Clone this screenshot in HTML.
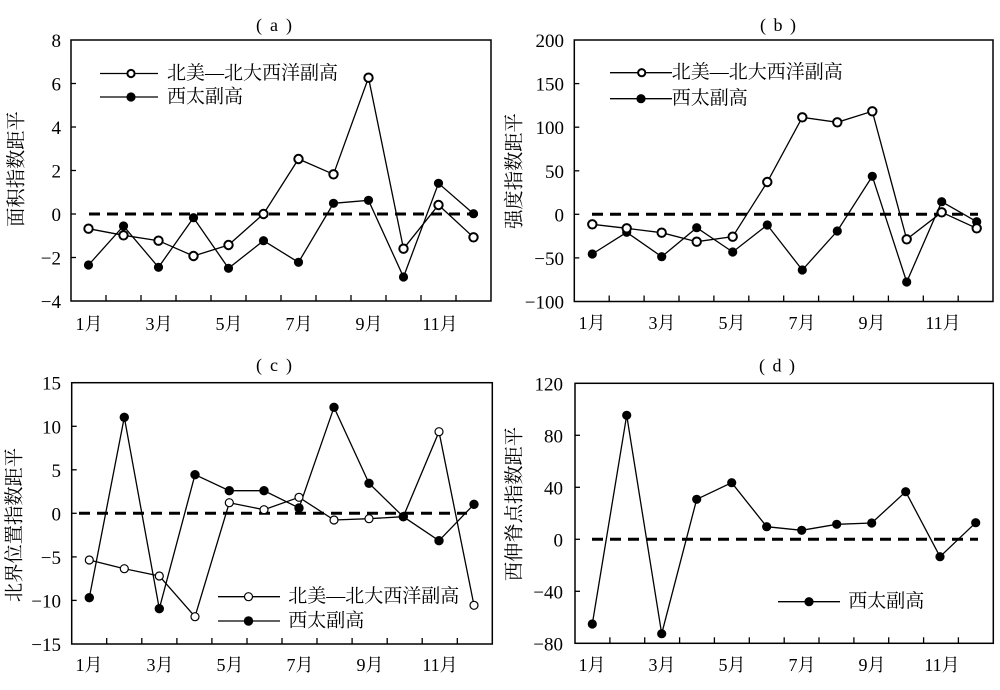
<!DOCTYPE html>
<html><head><meta charset="utf-8"><style>
html,body{margin:0;padding:0;background:#fff;}
svg{display:block;}
.xl{font-family:"Liberation Serif","Noto Serif CJK SC",serif;font-size:18px;fill:#000;text-anchor:middle;}
.yl{font-family:"Liberation Serif","Noto Serif CJK SC",serif;font-size:19px;fill:#000;text-anchor:end;}
.lab{font-family:"Liberation Serif","Noto Serif CJK SC",serif;font-size:19.3px;fill:#000;text-anchor:middle;dominant-baseline:central;}
.leg{font-family:"Liberation Serif","Noto Serif CJK SC",serif;font-size:19px;fill:#000;dominant-baseline:central;}
.ttl{font-family:"Liberation Serif",serif;font-size:18px;fill:#000;text-anchor:middle;}
.ax{fill:none;stroke:#000;stroke-width:1.5;}
.tk{stroke:#000;stroke-width:1.3;}
.ln{fill:none;stroke:#000;stroke-width:1.3;}
.dash{stroke:#000;stroke-width:3;stroke-dasharray:11 7;}
.o{fill:#fff;stroke:#000;stroke-width:2;}
.o2{fill:#fff;stroke:#000;stroke-width:1.2;}
.f{fill:#000;}
</style></head><body>
<svg width="1000" height="690" viewBox="0 0 1000 690" xmlns="http://www.w3.org/2000/svg">

<!-- ================= Panel (a) ================= -->
<text class="ttl" x="259" y="31">(</text><text class="ttl" x="274" y="31">a</text><text class="ttl" x="289" y="31">)</text>
<rect class="ax" x="71" y="40" width="420" height="261"/>
<g class="tk">
<line x1="71" y1="83.5" x2="76" y2="83.5"/><line x1="71" y1="127" x2="76" y2="127"/><line x1="71" y1="170.5" x2="76" y2="170.5"/><line x1="71" y1="214" x2="76" y2="214"/><line x1="71" y1="257.5" x2="76" y2="257.5"/>
<line x1="106" y1="301" x2="106" y2="295"/><line x1="141" y1="301" x2="141" y2="295"/><line x1="176" y1="301" x2="176" y2="295"/><line x1="211" y1="301" x2="211" y2="295"/><line x1="246" y1="301" x2="246" y2="295"/><line x1="281" y1="301" x2="281" y2="295"/><line x1="316" y1="301" x2="316" y2="295"/><line x1="351" y1="301" x2="351" y2="295"/><line x1="386" y1="301" x2="386" y2="295"/><line x1="421" y1="301" x2="421" y2="295"/><line x1="456" y1="301" x2="456" y2="295"/>
</g>
<g>
<text class="yl" x="61" y="47">8</text><text class="yl" x="61" y="90.5">6</text><text class="yl" x="61" y="134">4</text><text class="yl" x="61" y="177.5">2</text><text class="yl" x="61" y="221">0</text><text class="yl" x="61" y="264.5">−2</text><text class="yl" x="61" y="308">−4</text>
</g>
<g>
<text class="xl" x="89" y="330">1月</text><text class="xl" x="159" y="330">3月</text><text class="xl" x="229" y="330">5月</text><text class="xl" x="299" y="330">7月</text><text class="xl" x="369" y="330">9月</text><text class="xl" x="440" y="330">11月</text>
</g>
<text class="lab" x="17" y="169" transform="rotate(-90 17 169)">面积指数距平</text>
<line class="dash" x1="89" y1="214" x2="478" y2="214"/>
<polyline class="ln" points="88.5,228.7 123.5,235.3 158.5,240.7 193.5,256 228.5,245 263.5,214 298.5,159 333.5,174.3 368.5,77.7 403.5,248.7 438.5,205 473.5,237.3"/>
<polyline class="ln" points="88.5,265 123.5,226 158.5,267.3 193.5,217.7 228.5,268.3 263.5,240.7 298.5,262.3 333.5,203.3 368.5,200.3 403.5,277 438.5,183.3 473.5,213.7"/>
<g>
<circle class="o" cx="88.5" cy="228.7" r="4.2"/><circle class="o" cx="123.5" cy="235.3" r="4.2"/><circle class="o" cx="158.5" cy="240.7" r="4.2"/><circle class="o" cx="193.5" cy="256" r="4.2"/><circle class="o" cx="228.5" cy="245" r="4.2"/><circle class="o" cx="263.5" cy="214" r="4.2"/><circle class="o" cx="298.5" cy="159" r="4.2"/><circle class="o" cx="333.5" cy="174.3" r="4.2"/><circle class="o" cx="368.5" cy="77.7" r="4.2"/><circle class="o" cx="403.5" cy="248.7" r="4.2"/><circle class="o" cx="438.5" cy="205" r="4.2"/><circle class="o" cx="473.5" cy="237.3" r="4.2"/>
</g>
<g class="f">
<circle cx="88.5" cy="265" r="4.6"/><circle cx="123.5" cy="226" r="4.6"/><circle cx="158.5" cy="267.3" r="4.6"/><circle cx="193.5" cy="217.7" r="4.6"/><circle cx="228.5" cy="268.3" r="4.6"/><circle cx="263.5" cy="240.7" r="4.6"/><circle cx="298.5" cy="262.3" r="4.6"/><circle cx="333.5" cy="203.3" r="4.6"/><circle cx="368.5" cy="200.3" r="4.6"/><circle cx="403.5" cy="277" r="4.6"/><circle cx="438.5" cy="183.3" r="4.6"/><circle cx="473.5" cy="213.7" r="4.6"/>
</g>
<line class="ln" x1="100" y1="73.5" x2="158" y2="73.5"/><circle class="o" cx="131" cy="73.5" r="3.6"/>
<line class="ln" x1="100" y1="97" x2="158" y2="97"/><circle class="f" cx="131" cy="97" r="4.6"/>
<text class="leg" x="167" y="73.5">北美—北大西洋副高</text>
<text class="leg" x="167" y="97">西太副高</text>

<!-- ================= Panel (b) ================= -->
<text class="ttl" x="763" y="31">(</text><text class="ttl" x="778" y="31">b</text><text class="ttl" x="793" y="31">)</text>
<rect class="ax" x="574.3" y="40" width="418.7" height="261.5"/>
<g class="tk">
<line x1="574.3" y1="83.6" x2="579.3" y2="83.6"/><line x1="574.3" y1="127.2" x2="579.3" y2="127.2"/><line x1="574.3" y1="170.8" x2="579.3" y2="170.8"/><line x1="574.3" y1="214.3" x2="579.3" y2="214.3"/><line x1="574.3" y1="257.9" x2="579.3" y2="257.9"/>
<line x1="609.2" y1="301.5" x2="609.2" y2="295.5"/><line x1="644.1" y1="301.5" x2="644.1" y2="295.5"/><line x1="679" y1="301.5" x2="679" y2="295.5"/><line x1="713.9" y1="301.5" x2="713.9" y2="295.5"/><line x1="748.8" y1="301.5" x2="748.8" y2="295.5"/><line x1="783.7" y1="301.5" x2="783.7" y2="295.5"/><line x1="818.6" y1="301.5" x2="818.6" y2="295.5"/><line x1="853.5" y1="301.5" x2="853.5" y2="295.5"/><line x1="888.4" y1="301.5" x2="888.4" y2="295.5"/><line x1="923.3" y1="301.5" x2="923.3" y2="295.5"/><line x1="958.2" y1="301.5" x2="958.2" y2="295.5"/>
</g>
<g>
<text class="yl" x="564" y="47">200</text><text class="yl" x="564" y="90.6">150</text><text class="yl" x="564" y="134.2">100</text><text class="yl" x="564" y="177.8">50</text><text class="yl" x="564" y="221.3">0</text><text class="yl" x="564" y="264.9">−50</text><text class="yl" x="564" y="308.5">−100</text>
</g>
<g>
<text class="xl" x="592" y="329">1月</text><text class="xl" x="662" y="329">3月</text><text class="xl" x="732" y="329">5月</text><text class="xl" x="802" y="329">7月</text><text class="xl" x="872" y="329">9月</text><text class="xl" x="943" y="329">11月</text>
</g>
<text class="lab" x="515" y="171" transform="rotate(-90 515 171)">强度指数距平</text>
<line class="dash" x1="592" y1="214.3" x2="978" y2="214.3"/>
<polyline class="ln" points="592.3,224.3 626.7,228.3 661.7,232.7 696.7,241.7 732.7,236.7 767.3,182 802.3,117.3 837.3,122.3 872.3,111.3 906.7,239.3 941.7,212.3 976.7,228.3"/>
<polyline class="ln" points="592.3,254 626.7,232.3 661.7,256.7 696.7,227.7 732.7,252 767.3,225 802.3,270 837.3,231 872.3,176.3 906.7,282 941.7,201.7 976.7,221.7"/>
<g class="f">
<circle cx="592.3" cy="254" r="4.6"/><circle cx="626.7" cy="232.3" r="4.6"/><circle cx="661.7" cy="256.7" r="4.6"/><circle cx="696.7" cy="227.7" r="4.6"/><circle cx="732.7" cy="252" r="4.6"/><circle cx="767.3" cy="225" r="4.6"/><circle cx="802.3" cy="270" r="4.6"/><circle cx="837.3" cy="231" r="4.6"/><circle cx="872.3" cy="176.3" r="4.6"/><circle cx="906.7" cy="282" r="4.6"/><circle cx="941.7" cy="201.7" r="4.6"/><circle cx="976.7" cy="221.7" r="4.6"/>
</g>
<g>
<circle class="o" cx="592.3" cy="224.3" r="4.2"/><circle class="o" cx="626.7" cy="228.3" r="4.2"/><circle class="o" cx="661.7" cy="232.7" r="4.2"/><circle class="o" cx="696.7" cy="241.7" r="4.2"/><circle class="o" cx="732.7" cy="236.7" r="4.2"/><circle class="o" cx="767.3" cy="182" r="4.2"/><circle class="o" cx="802.3" cy="117.3" r="4.2"/><circle class="o" cx="837.3" cy="122.3" r="4.2"/><circle class="o" cx="872.3" cy="111.3" r="4.2"/><circle class="o" cx="906.7" cy="239.3" r="4.2"/><circle class="o" cx="941.7" cy="212.3" r="4.2"/><circle class="o" cx="976.7" cy="228.3" r="4.2"/>
</g>
<line class="ln" x1="610" y1="72.7" x2="672" y2="72.7"/><circle class="o" cx="641.7" cy="72.7" r="3.6"/>
<line class="ln" x1="610" y1="98.7" x2="672" y2="98.7"/><circle class="f" cx="641" cy="98.7" r="4.6"/>
<text class="leg" x="671.7" y="72.7">北美—北大西洋副高</text>
<text class="leg" x="671.7" y="98.7">西太副高</text>

<!-- ================= Panel (c) ================= -->
<text class="ttl" x="259" y="371">(</text><text class="ttl" x="274" y="371">c</text><text class="ttl" x="289" y="371">)</text>
<rect class="ax" x="71.7" y="382.7" width="420.6" height="261.3"/>
<g class="tk">
<line x1="71.7" y1="426.3" x2="76.7" y2="426.3"/><line x1="71.7" y1="469.8" x2="76.7" y2="469.8"/><line x1="71.7" y1="513.3" x2="76.7" y2="513.3"/><line x1="71.7" y1="556.9" x2="76.7" y2="556.9"/><line x1="71.7" y1="600.4" x2="76.7" y2="600.4"/>
<line x1="106.7" y1="644" x2="106.7" y2="638"/><line x1="141.8" y1="644" x2="141.8" y2="638"/><line x1="176.9" y1="644" x2="176.9" y2="638"/><line x1="211.9" y1="644" x2="211.9" y2="638"/><line x1="247" y1="644" x2="247" y2="638"/><line x1="282" y1="644" x2="282" y2="638"/><line x1="317" y1="644" x2="317" y2="638"/><line x1="352.1" y1="644" x2="352.1" y2="638"/><line x1="387.2" y1="644" x2="387.2" y2="638"/><line x1="422.2" y1="644" x2="422.2" y2="638"/><line x1="457.3" y1="644" x2="457.3" y2="638"/>
</g>
<g>
<text class="yl" x="61" y="389.7">15</text><text class="yl" x="61" y="433.3">10</text><text class="yl" x="61" y="476.8">5</text><text class="yl" x="61" y="520.3">0</text><text class="yl" x="61" y="563.9">−5</text><text class="yl" x="61" y="607.4">−10</text><text class="yl" x="61" y="651">−15</text>
</g>
<g>
<text class="xl" x="89" y="671">1月</text><text class="xl" x="160" y="671">3月</text><text class="xl" x="230" y="671">5月</text><text class="xl" x="300" y="671">7月</text><text class="xl" x="370" y="671">9月</text><text class="xl" x="440" y="671">11月</text>
</g>
<text class="lab" x="15" y="525" transform="rotate(-90 15 525)">北界位置指数距平</text>
<line class="dash" x1="79" y1="513.3" x2="467" y2="513.3"/>
<polyline class="ln" points="89.3,560 124.3,568.7 159.3,576 195,616.7 229.3,502.7 264,509.7 299,497.3 334,520 369,518.7 403.3,516.7 439,431.7 474,605.3"/>
<polyline class="ln" points="89.3,597.7 124.3,417.3 159.3,608.7 195,474.7 229.3,490.7 264,490.7 299,508 334,407.3 369,483.3 403.3,516.7 439,540.7 474,504.3"/>
<g>
<circle class="o2" cx="89.3" cy="560" r="4"/><circle class="o2" cx="124.3" cy="568.7" r="4"/><circle class="o2" cx="159.3" cy="576" r="4"/><circle class="o2" cx="195" cy="616.7" r="4"/><circle class="o2" cx="229.3" cy="502.7" r="4"/><circle class="o2" cx="264" cy="509.7" r="4"/><circle class="o2" cx="299" cy="497.3" r="4"/><circle class="o2" cx="334" cy="520" r="4"/><circle class="o2" cx="369" cy="518.7" r="4"/><circle class="o2" cx="403.3" cy="516.7" r="4"/><circle class="o2" cx="439" cy="431.7" r="4"/><circle class="o2" cx="474" cy="605.3" r="4"/>
</g>
<g class="f">
<circle cx="89.3" cy="597.7" r="4.7"/><circle cx="124.3" cy="417.3" r="4.7"/><circle cx="159.3" cy="608.7" r="4.7"/><circle cx="195" cy="474.7" r="4.7"/><circle cx="229.3" cy="490.7" r="4.7"/><circle cx="264" cy="490.7" r="4.7"/><circle cx="299" cy="508" r="4.7"/><circle cx="334" cy="407.3" r="4.7"/><circle cx="369" cy="483.3" r="4.7"/><circle cx="403.3" cy="516.7" r="4.7"/><circle cx="439" cy="540.7" r="4.7"/><circle cx="474" cy="504.3" r="4.7"/>
</g>
<line class="ln" x1="218" y1="596.7" x2="280" y2="596.7"/><circle class="o2" cx="248.5" cy="596.7" r="4"/>
<line class="ln" x1="218" y1="621" x2="280" y2="621"/><circle class="f" cx="248.5" cy="621" r="4.7"/>
<text class="leg" x="288.3" y="596.7">北美—北大西洋副高</text>
<text class="leg" x="288.3" y="621">西太副高</text>

<!-- ================= Panel (d) ================= -->
<text class="ttl" x="762" y="371.5">(</text><text class="ttl" x="777" y="371.5">d</text><text class="ttl" x="792" y="371.5">)</text>
<rect class="ax" x="575" y="383.3" width="418.3" height="260"/>
<g class="tk">
<line x1="575" y1="435.3" x2="580" y2="435.3"/><line x1="575" y1="487.3" x2="580" y2="487.3"/><line x1="575" y1="539.3" x2="580" y2="539.3"/><line x1="575" y1="591.3" x2="580" y2="591.3"/>
<line x1="609.9" y1="643.3" x2="609.9" y2="637.3"/><line x1="644.7" y1="643.3" x2="644.7" y2="637.3"/><line x1="679.6" y1="643.3" x2="679.6" y2="637.3"/><line x1="714.4" y1="643.3" x2="714.4" y2="637.3"/><line x1="749.3" y1="643.3" x2="749.3" y2="637.3"/><line x1="784.2" y1="643.3" x2="784.2" y2="637.3"/><line x1="819" y1="643.3" x2="819" y2="637.3"/><line x1="853.9" y1="643.3" x2="853.9" y2="637.3"/><line x1="888.7" y1="643.3" x2="888.7" y2="637.3"/><line x1="923.6" y1="643.3" x2="923.6" y2="637.3"/><line x1="958.4" y1="643.3" x2="958.4" y2="637.3"/>
</g>
<g>
<text class="yl" x="563" y="390.3">120</text><text class="yl" x="563" y="442.3">80</text><text class="yl" x="563" y="494.3">40</text><text class="yl" x="563" y="546.3">0</text><text class="yl" x="563" y="598.3">−40</text><text class="yl" x="563" y="650.3">−80</text>
</g>
<g>
<text class="xl" x="592" y="671">1月</text><text class="xl" x="662" y="671">3月</text><text class="xl" x="732" y="671">5月</text><text class="xl" x="802" y="671">7月</text><text class="xl" x="872" y="671">9月</text><text class="xl" x="942" y="671">11月</text>
</g>
<text class="lab" x="515" y="504" transform="rotate(-90 515 504)">西伸脊点指数距平</text>
<line class="dash" x1="592" y1="539.3" x2="978" y2="539.3"/>
<polyline class="ln" points="592.3,624 626.7,415.3 661.7,633.7 696.7,499.3 731.7,482.7 766.7,526.7 801.7,530.3 836.7,524.3 871.7,523 905.7,491.7 940,556.7 975.7,522.7"/>
<g class="f">
<circle cx="592.3" cy="624" r="4.6"/><circle cx="626.7" cy="415.3" r="4.6"/><circle cx="661.7" cy="633.7" r="4.6"/><circle cx="696.7" cy="499.3" r="4.6"/><circle cx="731.7" cy="482.7" r="4.6"/><circle cx="766.7" cy="526.7" r="4.6"/><circle cx="801.7" cy="530.3" r="4.6"/><circle cx="836.7" cy="524.3" r="4.6"/><circle cx="871.7" cy="523" r="4.6"/><circle cx="905.7" cy="491.7" r="4.6"/><circle cx="940" cy="556.7" r="4.6"/><circle cx="975.7" cy="522.7" r="4.6"/>
</g>
<line class="ln" x1="778" y1="601.7" x2="840" y2="601.7"/><circle class="f" cx="809" cy="601.7" r="4.6"/>
<text class="leg" x="848.3" y="601.7">西太副高</text>

</svg>
</body></html>
